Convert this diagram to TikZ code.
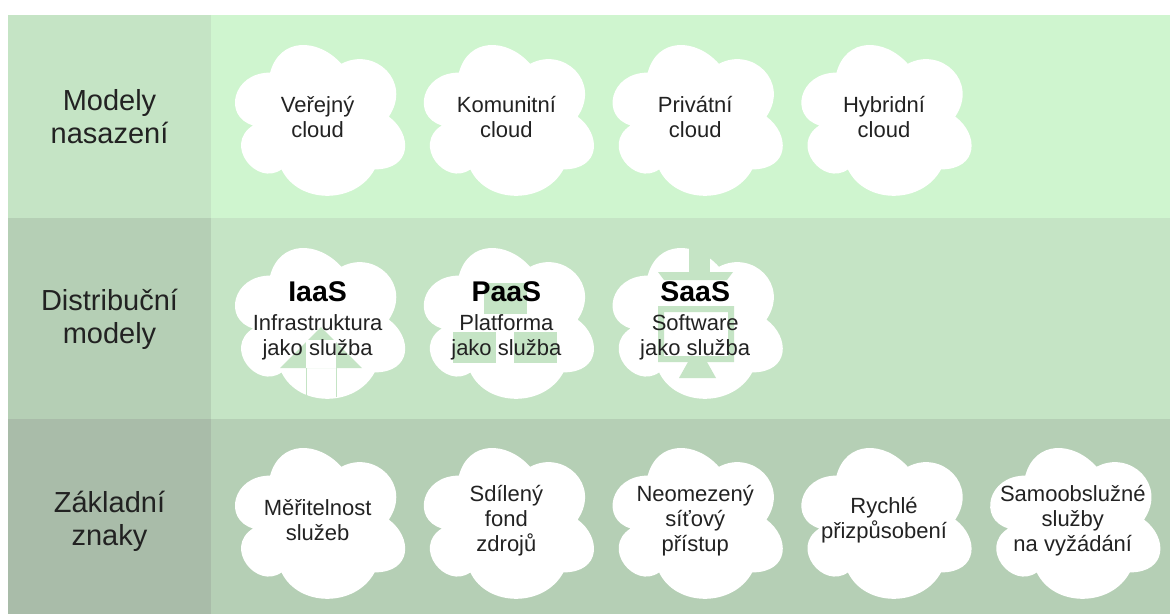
\documentclass[tikz,border=0pt]{standalone}
\usepackage{fontspec}
\setmainfont{Liberation Sans}

\definecolor{topR}{HTML}{CFF5CF}
\definecolor{topL}{HTML}{C5E4C5}
\definecolor{midR}{HTML}{C5E4C5}
\definecolor{midL}{HTML}{B5CFB5}
\definecolor{botR}{HTML}{B5CFB5}
\definecolor{botL}{HTML}{A9BCA9}
\definecolor{txt}{HTML}{222222}

\tikzset{
  % cloud outline, 190 x 176 cell centred on the pic origin
  puff/.pic={
    \fill[white]
      (-47.5,-44) .. controls (-85.5,-44) and (-95,0) .. (-64.6,8.8)
      .. controls (-95,28.16) and (-60.8,70.4) .. (-36.1,52.8)
      .. controls (-19,88) and (38,88) .. (57,52.8)
      .. controls (95,52.8) and (95,17.6) .. (71.25,0)
      .. controls (95,-35.2) and (57,-70.4) .. (23.75,-52.8)
      .. controls (0,-79.2) and (-38,-79.2) .. (-47.5,-44) -- cycle;
  },
  rowlabel/.style={align=center, text=txt, inner sep=0pt,
    font=\fontsize{29}{33}\selectfont},
  cloudtext/.style={align=center, text=txt, inner sep=0pt,
    font=\fontsize{22}{25}\selectfont},
  icon/.style={fill=midR},
}
\newcommand{\headline}[1]{{\fontsize{28.5}{29}\selectfont\bfseries\color{black}#1}}

\begin{document}
\begin{tikzpicture}[x=1pt,y=-1pt]
\useasboundingbox (0,0) rectangle (1170,614);

% bands
\fill[topR] (210.7,15) rectangle (1170,217.7);
\fill[topL] (8,15) rectangle (210.7,217.7);
\fill[midR] (210.7,217.7) rectangle (1170,419.3);
\fill[midL] (8,217.7) rectangle (210.7,419.3);
\fill[botR] (210.7,419.3) rectangle (1170,614);
\fill[botL] (8,419.3) rectangle (210.7,614);

% row labels
\node[rowlabel] (lab1) at (109.5,117) {Modely\\nasazení};
\node[rowlabel] (lab2) at (109.5,319) {Distribuční\\modely};
\node[rowlabel] (lab3) at (109.5,521) {Základní\\znaky};

% deployment models
\pic (c11) at (317.6,116.6) {puff};
\pic (c12) at (506.4,116.6) {puff};
\pic (c13) at (695.2,116.6) {puff};
\pic (c14) at (884,116.6) {puff};
\node[cloudtext] (pub)  at (317.6,117) {Veřejný\\cloud};
\node[cloudtext] (comm) at (506.4,117) {Komunitní\\cloud};
\node[cloudtext] (priv) at (695.2,117) {Privátní\\cloud};
\node[cloudtext] (hyb)  at (884,117) {Hybridní\\cloud};

% service models
\pic (c21) at (317.6,319.6) {puff};
\pic (c22) at (506.4,319.6) {puff};
\pic (c23) at (695.2,319.6) {puff};

% IaaS: upward arrow
\fill[icon] (280,368) -- (362,368) -- (321,327) -- cycle;
\fill[white] (306,340) rectangle (336,368);
\draw[midR, line width=1pt] (306,368) -- (306,397) (336,368) -- (336,397);
% PaaS: stacked blocks
\fill[icon] (484,283) rectangle (527,314);
\fill[icon] (453,332) rectangle (496,363);
\fill[icon] (514,332) rectangle (557,363);
% SaaS: monitor
\fill[icon] (689,246) rectangle (710,273);
\fill[icon] (658,272) -- (733,272) -- (727,280) -- (664,280) -- cycle;
\fill[icon, even odd rule] (658,306) rectangle (734,362) (664,312) rectangle (728,356);
\fill[icon] (688,362) -- (707,362) -- (716,378) -- (679,378) -- cycle;

\node[cloudtext] (iaas) at (317.6,321) {\headline{IaaS}\\[4pt]Infrastruktura\\jako služba};
\node[cloudtext] (paas) at (506.4,321) {\headline{PaaS}\\[4pt]Platforma\\jako služba};
\node[cloudtext] (saas) at (695.2,321) {\headline{SaaS}\\[4pt]Software\\jako služba};

% essential characteristics
\pic (c31) at (317.6,519.6) {puff};
\pic (c32) at (506.4,519.6) {puff};
\pic (c33) at (695.2,519.6) {puff};
\pic (c34) at (884,519.6) {puff};
\pic (c35) at (1072.8,519.6) {puff};
\node[cloudtext] (scal)  at (317.6,520) {Měřitelnost\\služeb};
\node[cloudtext] (pool)  at (506.4,521) {Sdílený\\fond\\zdrojů};
\node[cloudtext] (net)   at (695.2,521) {Neomezený\\síťový\\přístup};
\node[cloudtext] (elast) at (884,520) {Rychlé\\přizpůsobení};
\node[cloudtext] (self)  at (1072.8,521) {Samoobslužné\\služby\\na vyžádání};
\end{tikzpicture}
\end{document}
